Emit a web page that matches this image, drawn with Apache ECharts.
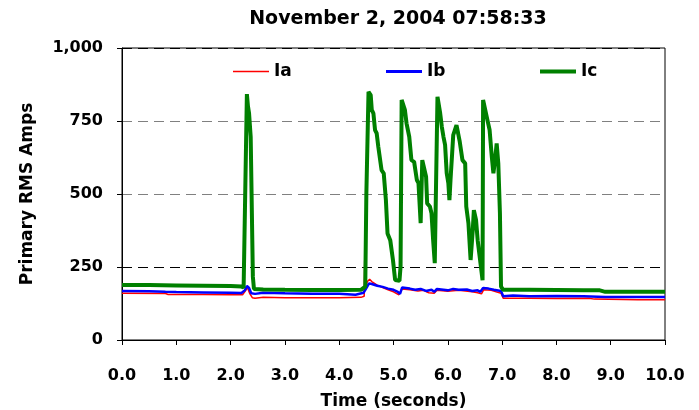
<!DOCTYPE html>
<html>
<head>
<meta charset="utf-8">
<script src="https://cdn.jsdelivr.net/npm/echarts@6/dist/echarts.min.js"></script>
<style>
html,body{margin:0;padding:0;background:#fff;}
#chart{width:699px;height:410px;}
</style>
</head>
<body>
<div id="chart"></div>
<script>
var titleText = "November 2, 2004 07:58:33";
var seriesNames = ["Ia", "Ib", "Ic"];
var yTicks = [0, 250, 500, 750, 1000];
var xTicks = [0, 1, 2, 3, 4, 5, 6, 7, 8, 9, 10];

var iaTime = [0, 0.8, 0.85, 1.5, 2.0, 2.22, 2.28, 2.31, 2.35, 2.40, 2.45, 2.6, 3.0, 3.5, 4.0, 4.4, 4.46, 4.48, 4.50, 4.52, 4.56, 4.6, 4.7, 4.8, 4.9, 5.0, 5.1, 5.16, 5.3, 5.45, 5.55, 5.65, 5.75, 5.8, 6.0, 6.2, 6.45, 6.55, 6.62, 6.66, 6.8, 6.98, 7.02, 7.5, 8.0, 8.6, 8.7, 9.5, 10.0];
var iaValues = [160, 159, 156, 156, 155, 155, 170, 180, 160, 145, 143, 146, 145, 145, 145, 146, 150, 400, 190, 200, 208, 200, 188, 180, 172, 165, 155, 175, 172, 168, 170, 162, 160, 170, 167, 170, 165, 162, 158, 172, 170, 160, 143, 143, 142, 143, 140, 138, 138];

var ibTime = [0, 0.5, 0.8, 1.0, 1.5, 2.0, 2.2, 2.26, 2.30, 2.34, 2.38, 2.45, 2.6, 3.0, 3.5, 4.0, 4.3, 4.45, 4.5, 4.55, 4.6, 4.7, 4.8, 4.9, 5.0, 5.08, 5.12, 5.16, 5.3, 5.4, 5.5, 5.6, 5.7, 5.75, 5.8, 6.0, 6.1, 6.2, 6.35, 6.45, 6.55, 6.6, 6.65, 6.75, 6.85, 6.98, 7.02, 7.2, 7.5, 8.0, 8.5, 8.9, 9.5, 10.0];
var ibValues = [168, 167, 165, 164, 163, 162, 161, 170, 185, 178, 160, 158, 162, 160, 158, 158, 155, 162, 178, 194, 192, 186, 182, 176, 172, 165, 158, 180, 176, 172, 175, 168, 172, 165, 175, 170, 175, 172, 173, 168, 170, 165, 178, 176, 172, 168, 150, 152, 150, 151, 150, 147, 147, 147];

var icTime = [0, 0.5, 1.0, 1.5, 2.0, 2.2, 2.24, 2.30, 2.32, 2.34, 2.37, 2.41, 2.43, 2.6, 3.0, 3.5, 4.0, 4.4, 4.48, 4.50, 4.54, 4.58, 4.60, 4.63, 4.66, 4.69, 4.72, 4.78, 4.82, 4.86, 4.89, 4.94, 4.99, 5.03, 5.11, 5.13, 5.15, 5.18, 5.21, 5.24, 5.29, 5.31, 5.33, 5.38, 5.43, 5.46, 5.50, 5.52, 5.53, 5.56, 5.60, 5.62, 5.67, 5.70, 5.73, 5.76, 5.79, 5.81, 5.83, 5.86, 5.89, 5.92, 5.95, 5.98, 6.01, 6.03, 6.05, 6.08, 6.10, 6.13, 6.16, 6.19, 6.22, 6.27, 6.32, 6.34, 6.38, 6.42, 6.46, 6.48, 6.52, 6.55, 6.61, 6.64, 6.65, 6.68, 6.73, 6.77, 6.81, 6.84, 6.87, 6.90, 6.93, 6.96, 6.98, 7.02, 7.5, 8.0, 8.5, 8.8, 8.9, 9.5, 10.0];
var icValues = [188, 188, 187, 186, 185, 183, 180, 842, 800, 776, 696, 217, 175, 173, 172, 171, 171, 172, 183, 500, 850, 839, 788, 776, 719, 708, 662, 582, 571, 479, 365, 342, 274, 205, 203, 251, 822, 816, 788, 742, 696, 656, 616, 610, 548, 537, 400, 400, 616, 610, 559, 468, 457, 434, 342, 263, 268, 833, 827, 776, 730, 696, 668, 571, 537, 479, 548, 639, 702, 719, 736, 708, 679, 616, 605, 457, 400, 274, 377, 445, 411, 342, 251, 205, 822, 816, 753, 719, 628, 571, 616, 673, 605, 434, 183, 172, 172, 171, 170, 170, 165, 165, 165];

function pairs(t, v) { return t.map(function (x, i) { return [x, v[i]]; }); }

var FONT = "DejaVu Sans";
var chart = echarts.init(document.getElementById('chart'), null, {renderer: 'canvas'});

function legendAt(name, left, thick, color) {
  return {
    data: [name], left: left, top: 58, itemWidth: 36, itemHeight: thick, itemGap: 5,
    icon: 'rect', selectedMode: false,
    itemStyle: {color: color},
    textStyle: {fontFamily: FONT, fontWeight: 'bold', fontSize: 17, color: '#000'}
  };
}

chart.setOption({
  animation: false,
  backgroundColor: '#fff',
  title: {
    text: titleText, left: 393, textAlign: 'center', top: 5,
    textStyle: {fontFamily: FONT, fontWeight: 'bold', fontSize: 19, color: '#000'}
  },
  legend: [legendAt(seriesNames[0], 228, 1.5, '#FF0000'), legendAt(seriesNames[1], 381, 3, '#0000FF'), legendAt(seriesNames[2], 535, 4, '#008000')],
  grid: {left: 122, right: 34, top: 48, bottom: 70, outerBoundsMode: 'none', containLabel: false,
    show: true, borderColor: '#000', borderWidth: 1, backgroundColor: 'transparent'},
  xAxis: {
    type: 'value', min: 0, max: 10, interval: 1,
    name: 'Time (seconds)', nameLocation: 'middle', nameGap: 53,
    nameTextStyle: {fontFamily: FONT, fontWeight: 'bold', fontSize: 17, color: '#000'},
    axisLine: {lineStyle: {color: '#000', width: 1}},
    axisTick: {inside: false, length: 5, lineStyle: {color: '#000'}},
    axisLabel: {fontFamily: FONT, fontWeight: 'bold', fontSize: 16, color: '#000', margin: 28,
      formatter: function (v) { return v.toFixed(1); }},
    splitLine: {show: false}
  },
  yAxis: {
    type: 'value', min: 0, max: 1000, interval: 250,
    name: 'Primary RMS Amps', nameLocation: 'middle', nameGap: 86, nameRotate: 90,
    nameTextStyle: {fontFamily: FONT, fontWeight: 'bold', fontSize: 17, color: '#000'},
    axisLine: {show: true, lineStyle: {color: '#000', width: 1}},
    axisTick: {show: true, inside: false, length: 5, lineStyle: {color: '#000'}},
    axisLabel: {fontFamily: FONT, fontWeight: 'bold', fontSize: 16, color: '#000', margin: 19,
      formatter: function (v) { return v.toLocaleString('en-US'); }},
    splitLine: {show: true, lineStyle: {color: ['#000', '#000', '#808080', '#808080', '#000'], type: [10, 6], width: 1}}
  },
  series: [
    {name: seriesNames[0], type: 'line', data: pairs(iaTime, iaValues), symbol: 'none', color: '#FF0000', lineStyle: {color: '#FF0000', width: 1.5}},
    {name: seriesNames[1], type: 'line', data: pairs(ibTime, ibValues), symbol: 'none', color: '#0000FF', lineStyle: {color: '#0000FF', width: 2.5}},
    {name: seriesNames[2], type: 'line', data: pairs(icTime, icValues), symbol: 'none', color: '#008000', lineStyle: {color: '#008000', width: 4}}
  ]
});
</script>
</body>
</html>
